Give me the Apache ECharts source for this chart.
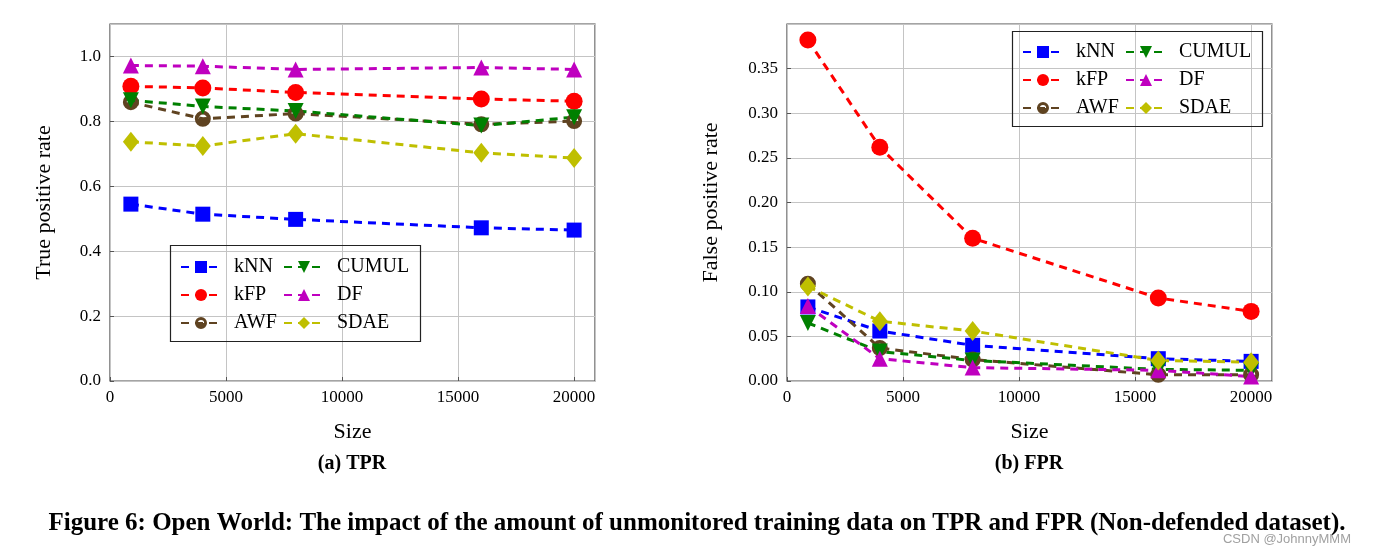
<!DOCTYPE html>
<html><head><meta charset="utf-8">
<script src="https://cdn.jsdelivr.net/npm/echarts@6/dist/echarts.min.js"></script>
<style>html,body{margin:0;padding:0;background:#fff}#c{width:1384px;height:556px}</style>
</head><body><div id="c"></div><script>
// ---- data ----
const sizes = [900, 4000, 8000, 16000, 20000];
const xTicks = [0, 5000, 10000, 15000, 20000];
const seriesNames = ['kNN', 'kFP', 'AWF', 'CUMUL', 'DF', 'SDAE'];
// TPR (left)
const tprKNN   = [0.545, 0.514, 0.498, 0.472, 0.465];
const tprKFP   = [0.908, 0.903, 0.889, 0.869, 0.862];
const tprAWF   = [0.859, 0.808, 0.824, 0.791, 0.801];
const tprCUMUL = [0.865, 0.846, 0.832, 0.787, 0.813];
const tprDF    = [0.972, 0.970, 0.960, 0.966, 0.960];
const tprSDAE  = [0.737, 0.724, 0.762, 0.703, 0.687];
// FPR (right)
const fprKNN   = [0.083, 0.056, 0.040, 0.025, 0.022];
const fprKFP   = [0.382, 0.262, 0.160, 0.093, 0.078];
const fprAWF   = [0.109, 0.037, 0.024, 0.007, 0.007];
const fprCUMUL = [0.065, 0.033, 0.023, 0.013, 0.012];
const fprDF    = [0.084, 0.025, 0.015, 0.012, 0.005];
const fprSDAE  = [0.106, 0.067, 0.056, 0.023, 0.021];

const tprData = {kNN: tprKNN, kFP: tprKFP, AWF: tprAWF, CUMUL: tprCUMUL, DF: tprDF, SDAE: tprSDAE};
const fprData = {kNN: fprKNN, kFP: fprKFP, AWF: fprAWF, CUMUL: fprCUMUL, DF: fprDF, SDAE: fprSDAE};

const AWF_PATH = 'path://M0,10 A10,10 0 1,1 20,10 A10,10 0 1,1 0,10 Z M15.2,10 A5.2,5.2 0 0,0 4.8,10 L15.2,10 Z';
const styles = {
  kNN:   {color: '#0000ff', symbol: 'rect', size: 15, rot: 0},
  kFP:   {color: '#ff0000', symbol: 'circle', size: 17, rot: 0},
  AWF:   {color: '#5f4321', symbol: AWF_PATH, size: 16, rot: 0},
  CUMUL: {color: '#008000', symbol: 'triangle', size: 16, rot: 180},
  DF:    {color: '#bf00bf', symbol: 'triangle', size: 16, rot: 0},
  SDAE:  {color: '#bfbf00', symbol: 'diamond', size: [16, 20], rot: 0}
};
const FONT = '"Liberation Serif", "DejaVu Serif", serif';

function makeSeries(dataMap, idx) {
  return seriesNames.map(n => ({
    name: n, type: 'line', xAxisIndex: idx, yAxisIndex: idx,
    data: sizes.map((s, i) => [s, dataMap[n][i]]),
    symbol: styles[n].symbol, symbolSize: styles[n].size, symbolRotate: styles[n].rot,
    showAllSymbol: true,
    lineStyle: {color: styles[n].color, width: 3, type: [8, 6]},
    itemStyle: {color: styles[n].color, borderWidth: 0},
    emphasis: {disabled: true}, animation: false, z: 3
  }));
}

function xAxis(idx) {
  return {
    gridIndex: idx, type: 'value', min: 0, max: 20900, interval: 5000,
    name: 'Size', nameLocation: 'middle', nameGap: 40,
    nameTextStyle: {fontFamily: FONT, fontSize: 22, color: '#000'},
    axisLine: {show: false},
    axisTick: {show: true, inside: true, length: 4, lineStyle: {color: '#555'}},
    axisLabel: {fontFamily: FONT, fontSize: 17, color: '#000', margin: 8, showMaxLabel: false,
      formatter: v => xTicks.includes(v) ? String(v) : ''},
    splitLine: {show: true, lineStyle: {color: '#c4c4c4', width: 1}}
  };
}
function yAxis(idx, max, interval, dec, name, gap) {
  return {
    gridIndex: idx, type: 'value', min: 0, max: max, interval: interval,
    name: name, nameLocation: 'middle', nameGap: gap,
    nameTextStyle: {fontFamily: FONT, fontSize: 22, color: '#000'},
    axisLine: {show: false},
    axisTick: {show: true, inside: true, length: 4, lineStyle: {color: '#555'}},
    axisLabel: {fontFamily: FONT, fontSize: 17, color: '#000', margin: 9, showMaxLabel: false,
      formatter: v => v.toFixed(dec)},
    splitLine: {show: true, lineStyle: {color: '#c4c4c4', width: 1}}
  };
}
function legend(names, left, top) {
  return {
    data: names, orient: 'vertical', left: left, top: top,
    itemWidth: 40, itemHeight: 15, itemGap: 8, padding: 0,
    selectedMode: false,
    textStyle: {fontFamily: FONT, fontSize: 20, color: '#000', padding: [0, 0, 0, 8]}
  };
}

const chart = echarts.init(document.getElementById('c'), null, {renderer: 'canvas'});
chart.setOption({
  animation: false,
  backgroundColor: '#fff',
  grid: [
    {left: 110, top: 24, width: 485, height: 357, show: true, borderColor: '#4a4a4a', borderWidth: 1.2, containLabel: false},
    {left: 787, top: 24, width: 485, height: 357, show: true, borderColor: '#4a4a4a', borderWidth: 1.2, containLabel: false}
  ],
  xAxis: [xAxis(0), xAxis(1)],
  yAxis: [yAxis(0, 1.1, 0.2, 1, 'True positive rate', 55), yAxis(1, 0.4, 0.05, 2, 'False positive rate', 65)],
  legend: [
    legend(['kNN', 'kFP', 'AWF'], 180, 257),
    legend(['CUMUL', 'DF', 'SDAE'], 283, 257),
    legend(['kNN', 'kFP', 'AWF'], 1022, 42),
    legend(['CUMUL', 'DF', 'SDAE'], 1125, 42)
  ],
  series: makeSeries(tprData, 0).concat(makeSeries(fprData, 1)),
  graphic: [
    {type: 'rect', shape: {x: 170.5, y: 245.5, width: 250, height: 96}, style: {fill: 'transparent', stroke: '#222', lineWidth: 1.2}, z: 10, silent: true},
    {type: 'rect', shape: {x: 1012.5, y: 31.5, width: 250, height: 95}, style: {fill: 'transparent', stroke: '#222', lineWidth: 1.2}, z: 10, silent: true},
    {type: 'text', x: 352, y: 464, style: {text: '(a) TPR', font: 'bold 20px ' + FONT, fill: '#000', textAlign: 'center', textVerticalAlign: 'middle'}},
    {type: 'text', x: 1029, y: 464, style: {text: '(b) FPR', font: 'bold 20px ' + FONT, fill: '#000', textAlign: 'center', textVerticalAlign: 'middle'}},
    {type: 'text', x: 697, y: 524, style: {text: 'Figure 6: Open World: The impact of the amount of unmonitored training data on TPR and FPR (Non-defended dataset).', font: 'bold 25px ' + FONT, fill: '#000', textAlign: 'center', textVerticalAlign: 'middle'}},
    {type: 'text', x: 1287, y: 539, style: {text: 'CSDN @JohnnyMMM', font: '13px "Liberation Sans", Arial, sans-serif', fill: '#a0a0a0', textAlign: 'center', textVerticalAlign: 'middle'}}
  ]
});
</script></body></html>
